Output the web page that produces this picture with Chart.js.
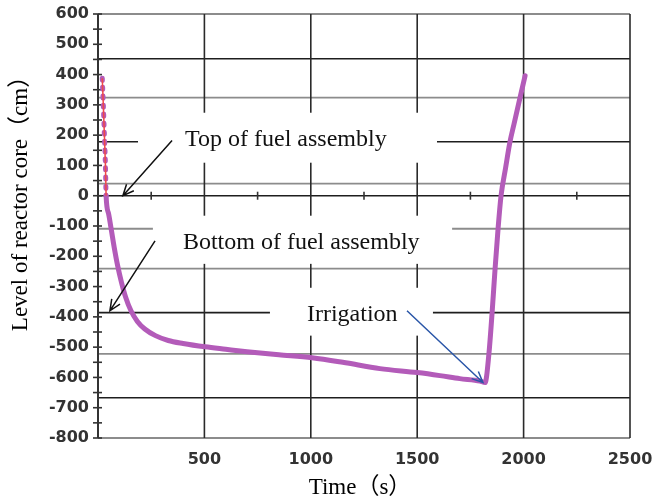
<!DOCTYPE html>
<html>
<head>
<meta charset="utf-8">
<script src="https://cdn.jsdelivr.net/npm/chart.js@4.4.1/dist/chart.umd.min.js"></script>
<style>
  body { margin: 0; background: #fff; }
  canvas { display: block; }
</style>
</head>
<body>
<canvas id="levelChart" width="653" height="502"></canvas>
<script>
// Time (s) and level of reactor core (cm)
const timeS = [20, 25, 30, 35, 38, 50, 62, 76, 92, 110, 130, 155, 185, 220, 270, 330, 400, 503, 600, 700, 850, 1006, 1150, 1325, 1500, 1607, 1700, 1795, 1819, 1837, 1852, 1866, 1880, 1894, 1915, 1936, 1955, 1983, 2007];
const levelCm = [388, 300, 200, 100, 0, -60, -110, -170, -230, -285, -335, -380, -415, -440, -462, -478, -488, -499, -507, -515, -525, -535, -550, -571, -584, -594, -604, -612, -617, -522, -386, -241, -109, 0, 90, 178, 237, 323, 396];
const redCount = 5; // first points drawn as the thin red trace

const xTickLabels = ['', '500', '1000', '1500', '2000', '2500'];
const yTickLabels = ['-800', '-700', '-600', '-500', '-400', '-300', '-200', '-100', '0', '100', '200', '300', '400', '500', '600'];

// reference lines of the original figure (cm)
const hLineLevels = [600, 452, 324, 178, 40, 0, -109, -241, -386, -522, -667, -800];
const hLineDark = [false, true, false, true, false, true, false, false, true, false, true, false];
const vLineTimes = [500, 1000, 1500, 2000, 2500];

const notes = [
    { text: 'Top of fuel assembly', at: [409, 165], box: [188, 1593, 274, 109], from: [348, 182], to: [117, 0], color: '#111' },
    { text: 'Bottom of fuel assembly', at: [399, -175], box: [258, 1664, -66, -225], from: [268, -149], to: [56, -380], color: '#111' },
    { text: 'Irrigation', at: [982, -413], box: [808, 1574, -304, -462], from: [1452, -380], to: [1809, -617], color: '#2a56a8' }
];

const serif = '"Liberation Serif", "Times New Roman", "Noto Sans CJK SC", serif';
const tickFont = { family: '"DejaVu Sans", Arial, sans-serif', size: 16, weight: 'bold' };

function arrow(ctx, x1, y1, x2, y2) {
    const a = Math.atan2(y2 - y1, x2 - x1);
    const len = 12, spread = 0.42;
    ctx.beginPath();
    ctx.moveTo(x1, y1);
    ctx.lineTo(x2, y2);
    ctx.moveTo(x2 - len * Math.cos(a - spread), y2 - len * Math.sin(a - spread));
    ctx.lineTo(x2, y2);
    ctx.lineTo(x2 - len * Math.cos(a + spread), y2 - len * Math.sin(a + spread));
    ctx.stroke();
}

const figurePlugin = {
    id: 'figure',
    beforeDatasetsDraw(chart) {
        const ctx = chart.ctx;
        const xs = chart.scales.x, ys = chart.scales.y;
        const area = chart.chartArea;
        ctx.save();
        // horizontal lines
        hLineLevels.forEach((v, i) => {
            const y = ys.getPixelForValue(v);
            ctx.strokeStyle = hLineDark[i] ? '#1e1e1e' : '#8c8c8c';
            ctx.lineWidth = hLineDark[i] ? 1.6 : 1.8;
            ctx.beginPath();
            ctx.moveTo(area.left, y);
            ctx.lineTo(area.right, y);
            ctx.stroke();
        });
        // vertical lines
        ctx.strokeStyle = '#2a2a2a';
        ctx.lineWidth = 1.6;
        vLineTimes.forEach(t => {
            const x = xs.getPixelForValue(t);
            ctx.beginPath();
            ctx.moveTo(x, area.top);
            ctx.lineTo(x, area.bottom);
            ctx.stroke();
        });
        // y axis with ticks every 50
        ctx.strokeStyle = '#333';
        ctx.lineWidth = 2;
        ctx.beginPath();
        ctx.moveTo(area.left, area.top);
        ctx.lineTo(area.left, area.bottom);
        ctx.stroke();
        ctx.lineWidth = 1.6;
        for (let v = -800; v <= 600; v += 50) {
            const y = ys.getPixelForValue(v);
            ctx.beginPath();
            ctx.moveTo(area.left - 5, y);
            ctx.lineTo(area.left + 4, y);
            ctx.stroke();
        }
        // small ticks on the zero line
        const y0 = ys.getPixelForValue(0);
        for (let t = 250; t < 2500; t += 500) {
            const x = xs.getPixelForValue(t);
            ctx.beginPath();
            ctx.moveTo(x, y0 - 4);
            ctx.lineTo(x, y0 + 4);
            ctx.stroke();
        }
        // axis titles
        ctx.fillStyle = '#000';
        ctx.font = '23px ' + serif;
        ctx.textAlign = 'center';
        ctx.textBaseline = 'middle';
        ctx.fillText('Time（s）', 360, 488);
        ctx.translate(21, 198);
        ctx.rotate(-Math.PI / 2);
        ctx.fillText('Level of reactor core（cm）', 0, 0);
        ctx.restore();
    },
    afterDatasetsDraw(chart) {
        const ctx = chart.ctx;
        const xs = chart.scales.x, ys = chart.scales.y;
        ctx.save();
        notes.forEach(n => {
            const bx1 = xs.getPixelForValue(n.box[0]), bx2 = xs.getPixelForValue(n.box[1]);
            const by1 = ys.getPixelForValue(n.box[2]), by2 = ys.getPixelForValue(n.box[3]);
            ctx.fillStyle = '#fff';
            ctx.fillRect(bx1, by1, bx2 - bx1, by2 - by1);
            ctx.fillStyle = '#111';
            ctx.font = '24px ' + serif;
            ctx.textAlign = 'left';
            ctx.textBaseline = 'alphabetic';
            ctx.fillText(n.text, xs.getPixelForValue(n.at[0]), ys.getPixelForValue(n.at[1]));
            ctx.strokeStyle = n.color;
            ctx.lineWidth = 1.5;
            arrow(ctx, xs.getPixelForValue(n.from[0]), ys.getPixelForValue(n.from[1]),
                       xs.getPixelForValue(n.to[0]), ys.getPixelForValue(n.to[1]));
        });
        ctx.restore();
    }
};

const levelPoints = timeS.map((t, i) => ({ x: t, y: levelCm[i] }));

new Chart(document.getElementById('levelChart'), {
    type: 'line',
    data: {
        datasets: [{
            // thin red trace on top of the first drop
            data: levelPoints.slice(0, redCount),
            borderColor: '#f04848',
            borderWidth: 1.5,
            pointRadius: 0
        }, {
            data: levelPoints,
            borderColor: '#b35bb9',
            borderWidth: 5,
            pointRadius: 0,
            cubicInterpolationMode: 'monotone',
            borderCapStyle: 'round',
            borderJoinStyle: 'round',
            segment: {
                borderDash: c => c.p0DataIndex < redCount - 1 ? [2, 7] : undefined
            }
        }]
    },
    options: {
        responsive: false,
        animation: false,
        layout: { padding: { top: 14, right: 23, left: 0, bottom: 0 } },
        plugins: { legend: { display: false }, tooltip: { enabled: false } },
        scales: {
            x: {
                type: 'linear',
                min: 0,
                max: 2500,
                ticks: {
                    stepSize: 500,
                    padding: 12,
                    maxRotation: 0,
                    color: '#333',
                    font: tickFont,
                    callback: (v, i) => xTickLabels[i]
                },
                grid: { display: false, drawTicks: false },
                border: { display: false },
                afterFit: s => { s.height = 64; s.paddingLeft = 0; s.paddingRight = 0; }
            },
            y: {
                min: -800,
                max: 600,
                ticks: {
                    stepSize: 100,
                    padding: 9,
                    color: '#333',
                    font: tickFont,
                    callback: (v, i) => yTickLabels[i]
                },
                grid: { display: false, drawTicks: false },
                border: { display: false },
                afterFit: s => { s.width = 98; s.paddingTop = 0; s.paddingBottom = 0; }
            }
        }
    },
    plugins: [figurePlugin]
});
</script>
</body>
</html>
